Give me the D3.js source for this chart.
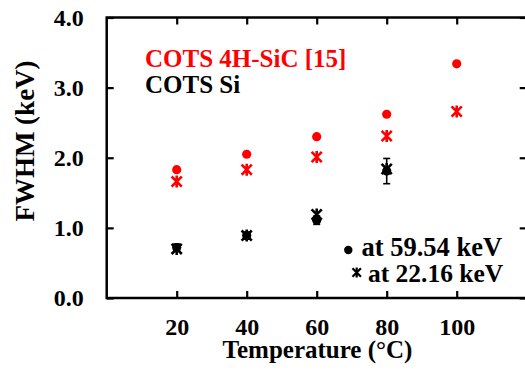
<!DOCTYPE html>
<html>
<head>
<meta charset="utf-8">
<script src="https://cdn.jsdelivr.net/npm/d3@7"></script>
<style>
  html, body { margin: 0; padding: 0; background: #fff; }
  svg text { font-family: "Liberation Serif", "Times New Roman", serif; font-weight: bold; }
</style>
</head>
<body>
<svg id="chart" width="525" height="374"></svg>
<script>
// ---- data ----
const temperatures = [20, 40, 60, 80, 100];
const sicPeak59 = [1.83, 2.05, 2.30, 2.62, 3.34];   // COTS 4H-SiC [15], 59.54 keV
const sicPeak22 = [1.66, 1.83, 2.01, 2.31, 2.66];   // COTS 4H-SiC [15], 22.16 keV
const siTemps = [20, 40, 60, 80];
const siPeak59 = [0.72, 0.89, 1.11, 1.81];          // COTS Si, 59.54 keV
const siPeak59Err = [0.05, 0.05, 0.06, 0.18];
const siPeak22 = [0.70, 0.89, 1.19, 1.84];          // COTS Si, 22.16 keV
const xTickLabels = [20, 40, 60, 80, 100];
const yTickLabels = [0, 1, 2, 3, 4];
const seriesNames = ["COTS 4H-SiC [15]", "COTS Si"];
const legendNames = ["at 59.54 keV", "at 22.16 keV"];

// ---- layout ----
const svg = d3.select("#chart");
const plotL = 106.7, plotR = 526.7, plotT = 17.5, plotB = 298;
const x = d3.scaleLinear().domain([0, 120]).range([plotL, plotR]);
const y = d3.scaleLinear().domain([0, 4]).range([plotB, plotT]);
const RED = "#ff0000", BLACK = "#000000";

// frame
svg.append("rect")
  .attr("x", plotL).attr("y", plotT)
  .attr("width", plotR - plotL).attr("height", plotB - plotT)
  .attr("fill", "none").attr("stroke", "#000").attr("stroke-width", 2.5);

function styleAxis(g) {
  g.select(".domain").remove();
  g.selectAll(".tick line").attr("stroke", "#000").attr("stroke-width", 2.2);
  g.selectAll(".tick text").attr("fill", "#000").style("font-size", "24px");
}

// bottom axis
svg.append("g").attr("transform", `translate(0,${plotB})`)
  .call(d3.axisBottom(x).tickValues(xTickLabels).tickFormat(d3.format("d"))
    .tickSizeInner(-7).tickSizeOuter(0).tickPadding(20))
  .call(styleAxis);
// top axis (ticks only)
svg.append("g").attr("transform", `translate(0,${plotT})`)
  .call(d3.axisTop(x).tickValues(xTickLabels).tickFormat("")
    .tickSizeInner(-7).tickSizeOuter(0))
  .call(styleAxis);
// left axis
svg.append("g").attr("transform", `translate(${plotL},0)`)
  .call(d3.axisLeft(y).tickValues(yTickLabels).tickFormat(d3.format(".1f"))
    .tickSizeInner(-7).tickSizeOuter(0).tickPadding(23))
  .call(styleAxis);
// right axis (ticks only)
svg.append("g").attr("transform", `translate(${plotR},0)`)
  .call(d3.axisRight(y).tickValues(yTickLabels).tickFormat("")
    .tickSizeInner(-7).tickSizeOuter(0))
  .call(styleAxis);

// axis titles
svg.append("text")
  .attr("transform", `translate(34,141) rotate(-90)`)
  .attr("text-anchor", "middle")
  .style("font-size", "27px")
  .text("FWHM (keV)");
svg.append("text")
  .attr("x", 317.5).attr("y", 358)
  .attr("text-anchor", "middle")
  .style("font-size", "25px")
  .text("Temperature (°C)");

// asterisk marker path (vertical + X)
function starPath(s) {
  const d = s * 0.85;
  return `M0,${-s}L0,${s}M${-d},${-d}L${d},${d}M${-d},${d}L${d},${-d}`;
}

// error bars (Si, 59.54 keV)
const eb = svg.append("g");
siTemps.forEach((t, i) => {
  const cx = x(t), y0 = y(siPeak59[i] - siPeak59Err[i]), y1 = y(siPeak59[i] + siPeak59Err[i]);
  eb.append("line").attr("x1", cx).attr("x2", cx).attr("y1", y0).attr("y2", y1)
    .attr("stroke", BLACK).attr("stroke-width", 1.6);
  [y0, y1].forEach(yy => eb.append("line")
    .attr("x1", cx - 3.5).attr("x2", cx + 3.5).attr("y1", yy).attr("y2", yy)
    .attr("stroke", BLACK).attr("stroke-width", 1.6));
});

// circles
function drawCircles(xs, vals, color) {
  svg.append("g").selectAll("circle").data(vals).join("circle")
    .attr("cx", (d, i) => x(xs[i])).attr("cy", d => y(d))
    .attr("r", 4.6).attr("fill", color);
}
function drawStars(xs, vals, color) {
  svg.append("g").selectAll("path").data(vals).join("path")
    .attr("transform", (d, i) => `translate(${x(xs[i])},${y(d)})`)
    .attr("d", starPath(6))
    .attr("fill", "none").attr("stroke", color).attr("stroke-width", 2.6);
}
drawCircles(temperatures, sicPeak59, RED);
drawStars(temperatures, sicPeak22, RED);
drawCircles(siTemps, siPeak59, BLACK);
drawStars(siTemps, siPeak22, BLACK);

// series labels
svg.append("text").attr("x", 145).attr("y", 66.7)
  .attr("fill", RED).style("font-size", "25px").text(seriesNames[0]);
svg.append("text").attr("x", 145).attr("y", 93.3)
  .attr("fill", BLACK).style("font-size", "25px").text(seriesNames[1]);

// marker legend
svg.append("circle").attr("cx", 348.3).attr("cy", 250).attr("r", 4.2).attr("fill", BLACK);
svg.append("text").attr("x", 361.5).attr("y", 256)
  .style("font-size", "26.5px").text(legendNames[0]);
svg.append("path").attr("transform", "translate(356.7,272.5)")
  .attr("d", starPath(5)).attr("fill", "none").attr("stroke", BLACK).attr("stroke-width", 2.2);
svg.append("text").attr("x", 368).attr("y", 282)
  .style("font-size", "25.5px").text(legendNames[1]);
</script>
</body>
</html>
